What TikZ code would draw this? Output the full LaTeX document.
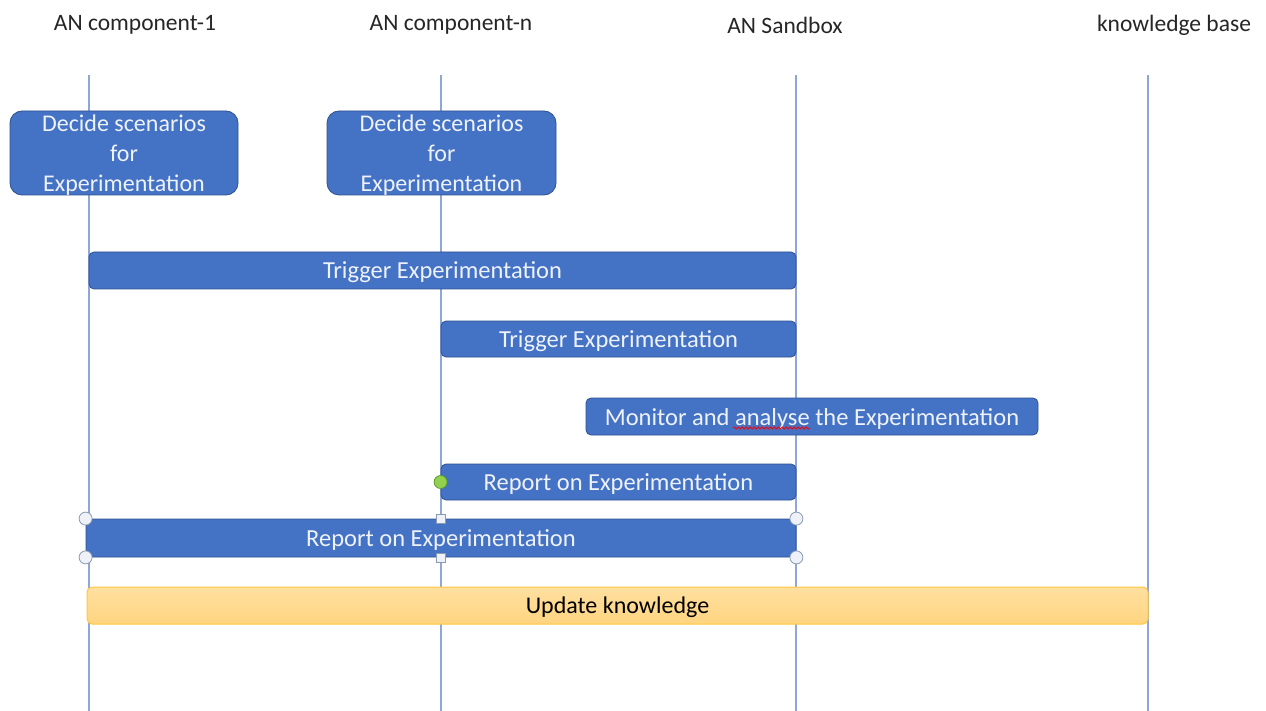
\documentclass[tikz,border=0pt]{standalone}
\usepackage{fontspec}
\setmainfont{Carlito}
\usetikzlibrary{decorations.pathmorphing}
\definecolor{boxblue}{HTML}{4472C4}
\definecolor{boxedge}{HTML}{2F528F}
\definecolor{boxtext}{HTML}{EEF2FA}
\definecolor{lifeblue}{HTML}{8EA6D8}
\definecolor{hdrtext}{HTML}{262626}
\definecolor{yelfillA}{HTML}{FFE0A0}
\definecolor{yelfillB}{HTML}{FFD480}
\definecolor{yeledge}{HTML}{FFC73F}
\definecolor{handlefill}{HTML}{EEF2F8}
\definecolor{handleedge}{HTML}{8A9BB0}
\definecolor{greenhandle}{HTML}{92D050}
\definecolor{greenedge}{HTML}{5E9A2E}
\begin{document}
\begin{tikzpicture}[x=1pt,y=-1pt,
  header/.style={text=hdrtext, font=\fontsize{23.5}{28}\selectfont, inner sep=0pt},
  lifeline/.style={draw=lifeblue, line width=1.5pt},
  decidebox/.style={fill=boxblue, draw=boxedge, line width=0.8pt, rounded corners=12pt,
     text=boxtext, align=center, inner sep=0pt, minimum width=228pt, minimum height=84pt,
     text depth=0pt, font=\fontsize{24}{30}\selectfont},
  bar/.style={fill=boxblue, draw=boxedge, line width=0.8pt, rounded corners=5pt,
     text=boxtext, inner sep=0pt, text depth=0pt, font=\fontsize{24.5}{29}\selectfont},
  updbar/.style={top color=yelfillA, bottom color=yelfillB, draw=yeledge, line width=1pt,
     rounded corners=5pt, text=black, inner sep=0pt, text depth=0pt, font=\fontsize{24}{29}\selectfont},
  roundhandle/.style={circle, fill=handlefill, draw=handleedge, line width=0.8pt, inner sep=0pt, minimum size=13pt},
  squarehandle/.style={rectangle, fill=handlefill, draw=handleedge, line width=0.8pt, inner sep=0pt, minimum size=9pt},
  greenhandlestyle/.style={circle, fill=greenhandle, draw=greenedge, line width=0.8pt, inner sep=0pt, minimum size=13pt},
  spellmark/.style={draw=red, line width=0.8pt, decorate, decoration={snake, amplitude=1.1pt, segment length=4pt}}
]
\useasboundingbox[fill=white] (0,0) rectangle (1266,711);

% headers
\node[header] (h1) at (135,25) {AN component-1};
\node[header] (h2) at (451,25) {AN component-n};
\node[header] (h3) at (785,25) {AN Sandbox};
\node[header] (h4) at (1174,25) {knowledge base};

% lifelines
\coordinate (t1) at (89,75);   \coordinate (b1) at (89,711);
\coordinate (t2) at (441,75);  \coordinate (b2) at (441,711);
\coordinate (t3) at (796,75);  \coordinate (b3) at (796,711);
\coordinate (t4) at (1148,75); \coordinate (b4) at (1148,711);
\draw[lifeline] (t1) -- (b1);
\draw[lifeline] (t2) -- (b2);
\draw[lifeline] (t3) -- (b3);
\draw[lifeline] (t4) -- (b4);

% decide boxes
\node[decidebox] (d1) at (124,153) {Decide scenarios\\for\\Experimentation};
\node[decidebox, minimum width=229pt] (d2) at (441.5,153) {Decide scenarios\\for\\Experimentation};

% bars
\node[bar, minimum width=707pt, minimum height=37pt] (tr1) at (442.5,270.5) {Trigger Experimentation};
\node[bar, minimum width=355pt, minimum height=36pt] (tr2) at (618.5,339) {Trigger Experimentation};
\node[bar, minimum width=452pt, minimum height=37pt] (mon) at (812,416.5) {Monitor and analyse the Experimentation};
\node[bar, minimum width=355pt, minimum height=36pt] (rp1) at (618.5,482) {Report on Experimentation};
\node[bar, minimum width=710pt, minimum height=38pt, rounded corners=2pt] (rp2) at (441,538) {Report on Experimentation};
\node[updbar, minimum width=1061pt, minimum height=37pt] (upd) at (617.5,605.5) {Update knowledge};

% spell-check underline under "analyse"
\coordinate (sp1) at (733,428);
\coordinate (sp2) at (810,428);
\draw[spellmark] (sp1) -- (sp2);

% selection handles
\node[roundhandle] (hA) at (rp2.north west) {};
\node[roundhandle] (hB) at (rp2.north east) {};
\node[roundhandle] (hC) at (rp2.south west) {};
\node[roundhandle] (hD) at (rp2.south east) {};
\node[squarehandle] (hE) at (rp2.north) {};
\node[squarehandle] (hF) at (rp2.south) {};
\node[greenhandlestyle] (hG) at (rp1.west) {};
\end{tikzpicture}
\end{document}
